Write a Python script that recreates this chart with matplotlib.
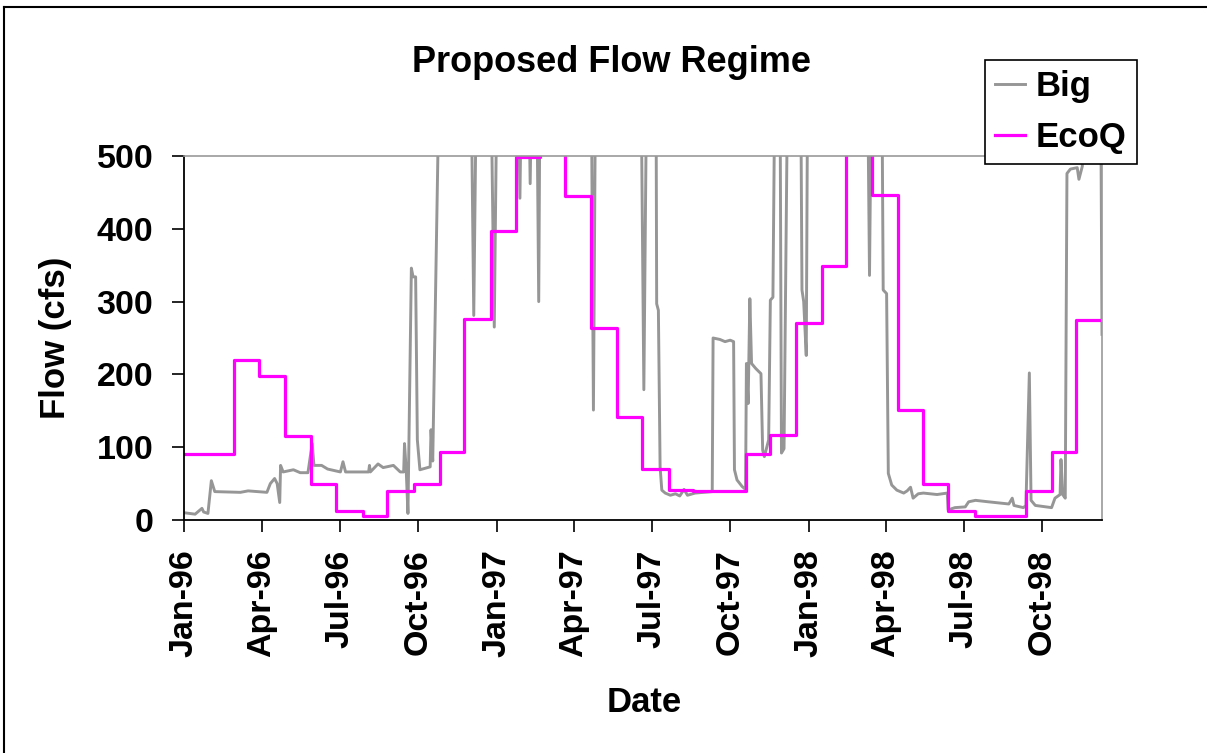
import numpy as np
import matplotlib
matplotlib.use('Agg')
import matplotlib.pyplot as plt
import matplotlib.dates as mdates
from matplotlib.lines import Line2D

plt.rcParams['font.family'] = ['Liberation Sans', 'DejaVu Sans']
plt.rcParams['font.weight'] = 'bold'

start = np.datetime64('1996-01-01')
end_day = 1074  # last day on the axis (Dec 10 1998)

# Big: daily flow, as (days since Jan 1 1996, cfs)
# values of 700 stand for flows that run off the top of the 0-500 axis
big_day = [0, 13, 21, 23, 28, 32, 36, 66, 75, 97, 101, 106, 109, 112, 113, 116,
           128, 136, 145, 150, 152, 161, 168, 183, 186, 189, 216, 217, 218, 227,
           233, 245, 253, 257, 258, 260, 262, 266, 268, 271, 273, 276, 288, 289,
           291, 297, 300, 335, 339, 343, 358, 363, 367, 390, 393, 396, 402, 405,
           408, 412, 415, 417, 476, 479, 482, 534, 538, 542, 552, 553, 555, 557,
           559, 563, 569, 575, 580, 585, 589, 598, 618, 619, 627, 633, 639, 643,
           644, 647, 653, 657, 658, 660, 662, 664, 669, 675, 677, 679, 684, 686,
           689, 692, 697, 699, 702, 707, 721, 723, 725, 728, 730, 799, 802, 805,
           816, 818, 822, 824, 828, 834, 842, 846, 850, 853, 859, 865, 881, 893,
           894, 902, 914, 918, 926, 941, 965, 969, 971, 982, 985, 989, 991, 996,
           1015, 1019, 1025, 1026, 1028, 1031, 1033, 1037, 1045, 1047, 1051, 1053,
           1072, 1074]
big_cfs = [10, 8, 16, 11, 9, 54, 39, 38, 40, 38, 50, 57, 50, 24, 75, 66,
           69, 65, 65, 105, 75, 75, 70, 66, 80, 66, 66, 75, 66, 77,
           72, 75, 66, 66, 105, 68, 9, 346, 334, 334, 110, 69, 73, 124,
           81, 500, 700, 700, 281, 700, 700, 265, 700, 700, 442, 700, 700, 462,
           700, 700, 300, 700, 700, 151, 700, 700, 179, 700, 700, 297, 288, 73,
           41, 37, 34, 36, 33, 42, 34, 37, 39, 250, 248, 245, 247, 245,
           69, 55, 46, 42, 215, 160, 304, 215, 208, 201, 96, 87, 110, 302,
           306, 700, 700, 92, 98, 700, 700, 316, 300, 226, 700, 700, 336, 700,
           700, 316, 311, 64, 48, 41, 37, 40, 45, 30, 36, 37, 35, 37,
           14, 17, 18, 25, 27, 25, 22, 30, 20, 17, 20, 202, 27, 20,
           17, 30, 35, 83, 35, 30, 476, 482, 484, 468, 486, 700,
           700, 255]

# EcoQ: proposed flow, one level per period, as (start day, cfs)
ecoq_day = [0, 58, 88, 118, 148, 178, 209, 238, 269, 299, 328, 359, 389, 417,
            446, 476, 506, 536, 567, 596, 657, 686, 716, 747, 774, 805, 835,
            865, 894, 925, 985, 1015, 1044]
ecoq_cfs = [90, 220, 198, 115, 49, 13, 6, 40, 49, 94, 276, 397, 499, 650,
            445, 264, 141, 70, 41, 40, 90, 117, 270, 349, 650, 446, 151,
            49, 13, 6, 40, 94, 275]

big_dates = start + np.array(big_day, dtype='timedelta64[D]')
eco_dates = start + np.array(ecoq_day + [end_day], dtype='timedelta64[D]')
eco_vals = ecoq_cfs + [ecoq_cfs[-1]]

fig = plt.figure(figsize=(12.07, 7.53), dpi=100)
ax = fig.add_axes([184/1207, 1-520/753, (1102-184)/1207, (520-156)/753])

ax.plot(big_dates, big_cfs, color='#969696', lw=2.1, label='Big')
ax.plot(eco_dates, eco_vals, color='#ff00ff', lw=2.3, drawstyle='steps-post', label='EcoQ')

ax.set_ylim(0, 500)
ax.set_xlim(start, start + np.timedelta64(end_day, 'D'))
ax.set_yticks(np.arange(0, 501, 100))
ax.xaxis.set_major_locator(mdates.MonthLocator(bymonth=[1, 4, 7, 10]))
ax.xaxis.set_major_formatter(mdates.DateFormatter('%b-%y'))
plt.setp(ax.get_xticklabels(), rotation=90)

ax.tick_params(axis='both', direction='out', length=8.6, width=1.2,
               labelsize=24.5, color='black')
ax.tick_params(axis='y', pad=13.5)
ax.tick_params(axis='x', pad=12.5)
for s in ['left', 'bottom']:
    ax.spines[s].set_color('black')
    ax.spines[s].set_linewidth(1.3)
for s in ['top', 'right']:
    ax.spines[s].set_color('#999999')
    ax.spines[s].set_linewidth(1.2)

fig.text(612/1207, 1-62/753, 'Proposed Flow Regime', fontsize=26,
         fontweight='bold', ha='center', va='center')
fig.text(56/1207, 1-338/753, 'Flow (cfs)', fontsize=25, fontweight='bold',
         rotation=90, ha='center', va='center')
fig.text(644/1207, 1-703/753, 'Date', fontsize=25, fontweight='bold',
         ha='center', va='center')

leg = fig.legend(loc='upper left', bbox_to_anchor=(985/1207, 1-60/753),
                 fontsize=25, frameon=True, fancybox=False, framealpha=1,
                 edgecolor='black', handlelength=0.86, handletextpad=0.3,
                 borderpad=0.3, labelspacing=0.5, borderaxespad=0)
leg.get_frame().set_linewidth(1.2)

# outer border of the original chart (only top and left show)
fig.add_artist(Line2D([4/1207, 4/1207], [0, 1-7/753], transform=fig.transFigure,
                      color='black', lw=1.5))
fig.add_artist(Line2D([4/1207, 1], [1-7/753, 1-7/753], transform=fig.transFigure,
                      color='black', lw=1.5))

fig.savefig('out.png', dpi=100)
